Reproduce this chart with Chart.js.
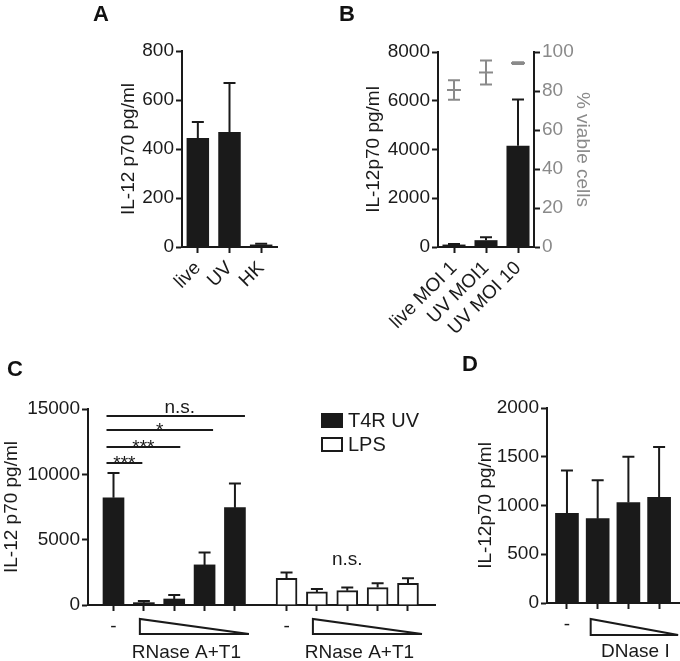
<!DOCTYPE html>
<html>
<head>
<meta charset="utf-8">
<script src="https://cdn.jsdelivr.net/npm/chart.js@4.4.1/dist/chart.umd.min.js"></script>
<style>
  body { margin: 0; background: #fff; }
  #fig { position: relative; width: 680px; height: 661px; overflow: hidden; }
  canvas { position: absolute; }
  .tag { position: absolute; font-family: "Liberation Sans", Arial, sans-serif; font-weight: bold; font-size: 22px; line-height: 22px; color: #111; }
</style>
</head>
<body>
<div id="fig">
  <canvas id="chartA" width="340" height="330" style="left:0;top:0"></canvas>
  <canvas id="chartB" width="340" height="345" style="left:340px;top:0"></canvas>
  <canvas id="chartC" width="460" height="331" style="left:0;top:330px"></canvas>
  <canvas id="chartD" width="220" height="331" style="left:460px;top:330px"></canvas>
  <div class="tag" style="left:93px;top:3px">A</div>
  <div class="tag" style="left:339px;top:3px">B</div>
  <div class="tag" style="left:7px;top:358px">C</div>
  <div class="tag" style="left:462px;top:353px">D</div>
</div>
<script>
// panel A
const aLabels = ['live', 'UV', 'HK'];
const aValues = [445, 469, 10];
const aErrors = [65, 200, 3];

// panel B
const bLabels = ['live MOI 1', 'UV MOI1', 'UV MOI 10'];
const bValues = [100, 280, 4150];
const bErrors = [25, 115, 1900];
const bViable = [80.5, 89.5, 94.3];
const bViableSd = [5, 6.2, 0.5];

// panel C - x positions of the bars (second group after a gap)
const cPos = [0, 1, 2, 3, 4, 5.7, 6.7, 7.7, 8.7, 9.7];
const cTickLabels = ['-', '', '', '', '', '-', '', '', '', ''];
const cUv = [8200, 180, 460, 3070, 7450];
const cUvErr = [1900, 130, 310, 950, 1850];
const cLps = [2050, 1000, 1100, 1330, 1660];
const cLpsErr = [430, 230, 230, 330, 380];
// significance bars: end on x axis, height, label
const cSigEnd = [0.95, 2.2, 3.28, 4.33];
const cSigY = [10870, 12090, 13390, 14460];
const cSigText = ['***', '***', '*', 'n.s.'];

// panel D
const dPos = [0, 1, 2, 3];
const dTickLabels = ['-', '', '', ''];
const dValues = [920, 865, 1030, 1085];
const dErrors = [440, 395, 470, 515];

const INK = '#1a1a1a';
const GREY = '#8a8a8a';
const FONT = '"Liberation Sans", Arial, Helvetica, sans-serif';

Chart.defaults.font.family = FONT;
Chart.defaults.font.size = 19;
Chart.defaults.color = INK;
Chart.defaults.animation = false;
Chart.defaults.plugins.legend.display = false;
Chart.defaults.plugins.tooltip.enabled = false;

function fixSize(w, h) {
    return s => {
        if (w != null) s.width = w;
        if (h != null) s.height = h;
    };
}

const gridOpts = { offset: false, drawOnChartArea: false, tickLength: 6, tickWidth: 2, tickColor: INK };
const borderOpts = { color: INK, width: 2 };

function yAxis(max, step, title, width) {
    return {
        min: 0, max: max,
        ticks: { stepSize: step, padding: 2, color: INK, callback: v => String(v) },
        grid: gridOpts,
        border: borderOpts,
        title: { display: true, text: title, padding: 0, color: INK },
        afterFit: fixSize(width, null)
    };
}

function catAxis(height) {
    return {
        offset: true,
        grid: gridOpts,
        border: borderOpts,
        ticks: { minRotation: 45, maxRotation: 45, padding: 4, color: INK, autoSkip: false },
        afterFit: fixSize(null, height)
    };
}

function posAxis(min, max, pos, labels, height) {
    return {
        type: 'linear', min: min, max: max, offset: false,
        afterBuildTicks: s => { s.ticks = pos.map(v => ({ value: v })); },
        ticks: { autoSkip: false, maxRotation: 0, padding: 4, color: INK, callback: (v, i) => labels[i] },
        grid: gridOpts,
        border: borderOpts,
        afterFit: fixSize(null, height)
    };
}

// error bars (mean + SD) drawn from each dataset's errors array
const errorBars = {
    id: 'errorBars',
    afterDatasetsDraw(chart) {
        const ctx = chart.ctx;
        chart.data.datasets.forEach((ds, i) => {
            if (!ds.errors) return;
            const meta = chart.getDatasetMeta(i);
            const yScale = chart.scales[meta.yAxisID];
            const cap = ds.capHalf || 6;
            ctx.save();
            ctx.strokeStyle = ds.errorColor || INK;
            ctx.lineWidth = 2;
            meta.data.forEach((el, j) => {
                const raw = ds.data[j];
                const v = typeof raw === 'object' ? raw.y : raw;
                const top = yScale.getPixelForValue(v + ds.errors[j]);
                const bottom = ds.bothSides ? yScale.getPixelForValue(v - ds.errors[j]) : el.y;
                ctx.beginPath();
                ctx.moveTo(el.x, bottom);
                ctx.lineTo(el.x, top);
                ctx.moveTo(el.x - cap, top);
                ctx.lineTo(el.x + cap, top);
                if (ds.bothSides) {
                    ctx.moveTo(el.x - cap, bottom);
                    ctx.lineTo(el.x + cap, bottom);
                }
                ctx.stroke();
            });
            ctx.restore();
        });
    }
};

// dose wedge under the x axis with its label
const doseWedge = {
    id: 'doseWedge',
    afterDraw(chart, args, opts) {
        if (!opts.groups) return;
        const ctx = chart.ctx;
        const x = chart.scales.x;
        ctx.save();
        opts.groups.forEach(g => {
            const l = x.getPixelForValue(g[0]) + opts.leftOff;
            const r = x.getPixelForValue(g[1]) + opts.rightOff;
            ctx.beginPath();
            ctx.moveTo(l, opts.top);
            ctx.lineTo(l, opts.bottom);
            ctx.lineTo(r, opts.bottom);
            ctx.closePath();
            ctx.fillStyle = '#fff';
            ctx.fill();
            ctx.strokeStyle = INK;
            ctx.lineWidth = 2;
            ctx.stroke();
            ctx.fillStyle = INK;
            ctx.font = '19px ' + FONT;
            ctx.textAlign = 'center';
            ctx.textBaseline = 'middle';
            ctx.fillText(opts.text, (l + r) / 2 + opts.textOff, opts.textY);
        });
        ctx.restore();
    }
};

// significance lines and a small legend for panel C
const sigAndLegend = {
    id: 'sigAndLegend',
    afterDraw(chart, args, opts) {
        if (!opts.ends) return;
        const ctx = chart.ctx;
        const x = chart.scales.x, y = chart.scales.y;
        ctx.save();
        ctx.strokeStyle = INK;
        ctx.fillStyle = INK;
        ctx.lineWidth = 2;
        ctx.font = '19px ' + FONT;
        ctx.textAlign = 'center';
        ctx.textBaseline = 'alphabetic';
        const left = x.getPixelForValue(opts.start) - 7;
        opts.ends.forEach((e, k) => {
            const right = x.getPixelForValue(e);
            const py = y.getPixelForValue(opts.heights[k]);
            ctx.beginPath();
            ctx.moveTo(left, py);
            ctx.lineTo(right, py);
            ctx.stroke();
            const star = opts.texts[k].indexOf('*') >= 0;
            ctx.fillText(opts.texts[k], (left + right) / 2 + (star ? 0 : 4), star ? py + 6 : py - 3);
        });
        // n.s. above the LPS group
        ctx.fillText(opts.lpsText, x.getPixelForValue(opts.lpsAt[0]), y.getPixelForValue(opts.lpsAt[1]));

        // legend
        ctx.font = '20px ' + FONT;
        ctx.textAlign = 'left';
        ctx.textBaseline = 'middle';
        chart.data.datasets.forEach((ds, i) => {
            const bx = 321, by = 83 + i * 24;
            ctx.fillStyle = ds.backgroundColor;
            ctx.fillRect(bx, by, 22, 15);
            ctx.strokeRect(bx + 1, by + 1, 20, 13);
            ctx.fillStyle = INK;
            ctx.fillText(ds.label, bx + 27, by + 8);
        });
        ctx.restore();
    }
};

Chart.register(errorBars, doseWedge, sigAndLegend);

// A
new Chart(document.getElementById('chartA'), {
    type: 'bar',
    data: {
        labels: aLabels,
        datasets: [{
            data: aValues, errors: aErrors,
            backgroundColor: INK, borderWidth: 0,
            categoryPercentage: 1, barPercentage: 0.71
        }]
    },
    options: {
        responsive: false,
        layout: { padding: { left: 117, right: 63, top: 51, bottom: 0 } },
        scales: {
            x: catAxis(83),
            y: yAxis(800, 200, 'IL-12 p70 pg/ml', 65)
        }
    }
});

// B
new Chart(document.getElementById('chartB'), {
    type: 'bar',
    data: {
        labels: bLabels,
        datasets: [{
            type: 'line', data: bViable, errors: bViableSd, bothSides: true,
            yAxisID: 'y2', showLine: false, pointStyle: 'line', pointRadius: 7,
            borderColor: GREY, borderWidth: 2, errorColor: GREY, capHalf: 6
        }, {
            data: bValues, errors: bErrors, yAxisID: 'y',
            backgroundColor: INK, borderWidth: 0,
            categoryPercentage: 1, barPercentage: 0.72
        }]
    },
    options: {
        responsive: false,
        layout: { padding: { left: 22, right: 86, top: 52, bottom: 0 } },
        scales: {
            x: catAxis(98),
            y: yAxis(8000, 2000, 'IL-12p70 pg/ml', 76),
            y2: {
                position: 'right', min: 0, max: 100,
                ticks: { stepSize: 20, padding: 2, color: GREY },
                grid: gridOpts,
                border: borderOpts,
                title: { display: true, text: '% viable cells', padding: 0, color: GREY },
                afterFit: fixSize(60, null)
            }
        }
    }
});

// C
new Chart(document.getElementById('chartC'), {
    type: 'bar',
    data: {
        datasets: [{
            label: 'T4R UV',
            data: cUv.map((v, i) => ({ x: cPos[i], y: v })), errors: cUvErr,
            backgroundColor: INK, borderColor: INK, borderWidth: 0
        }, {
            label: 'LPS',
            data: cLps.map((v, i) => ({ x: cPos[i + 5], y: v })), errors: cLpsErr,
            backgroundColor: '#ffffff', borderColor: INK, borderWidth: 2
        }]
    },
    options: {
        responsive: false,
        grouped: false,
        barThickness: 21,
        layout: { padding: { left: 0, right: 25, top: 79, bottom: 0 } },
        scales: {
            x: posAxis(-0.84, 10.59, cPos, cTickLabels, 56),
            y: yAxis(15000, 5000, 'IL-12 p70 pg/ml', 88)
        },
        plugins: {
            doseWedge: {
                groups: [[cPos[1], cPos[4]], [cPos[6], cPos[9]]],
                leftOff: -4, rightOff: 14, top: 289, bottom: 304,
                text: 'RNase A+T1', textOff: -8, textY: 323
            },
            sigAndLegend: {
                start: cPos[0], ends: cSigEnd, heights: cSigY, texts: cSigText,
                lpsText: 'n.s.', lpsAt: [cPos[7], 3050]
            }
        }
    }
});

// D
new Chart(document.getElementById('chartD'), {
    type: 'bar',
    data: {
        datasets: [{
            data: dValues.map((v, i) => ({ x: dPos[i], y: v })), errors: dErrors,
            backgroundColor: INK, borderWidth: 0
        }]
    },
    options: {
        responsive: false,
        barThickness: 23,
        layout: { padding: { left: 14, right: 0, top: 78, bottom: 0 } },
        scales: {
            x: posAxis(-0.65, 3.68, dPos, dTickLabels, 58),
            y: yAxis(2000, 500, 'IL-12p70 pg/ml', 73)
        },
        plugins: {
            doseWedge: {
                groups: [[dPos[1], dPos[3]]],
                leftOff: -7, rightOff: 19, top: 289, bottom: 305,
                text: 'DNase I', textOff: 1, textY: 322
            }
        }
    }
});
</script>
</body>
</html>
